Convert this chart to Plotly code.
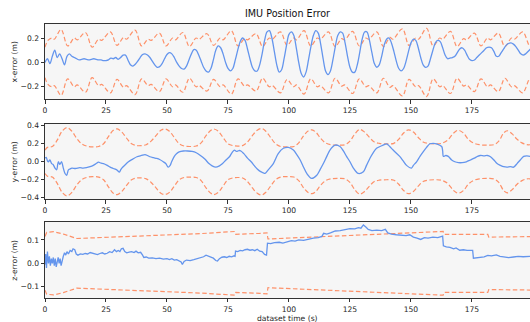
import plotly.graph_objects as go

# ---------------- data ----------------
# panel 1: x error (1 s samples)
x_t = list(range(200))
x_err = [0.00, 0.03, -0.01, 0.05, 0.10, 0.04, 0.07, 0.03, -0.02, 0.05,
         0.07, 0.05, 0.04, 0.03, 0.02, 0.025, 0.03, 0.025, 0.02, 0.025,
         0.03, 0.025, 0.02, 0.02, 0.015, 0.015, 0.02, 0.035, 0.03, 0.04,
         0.025, 0.04, 0.06, 0.06, 0.02, -0.02, -0.03, -0.015, 0.01, 0.04,
         0.065, 0.07, 0.06, 0.04, 0.01, -0.02, -0.04, -0.035, -0.01, 0.03,
         0.065, 0.08, 0.07, 0.04, 0.0, -0.03, -0.05, -0.055, -0.03, 0.02,
         0.07, 0.105, 0.10, 0.06, 0.01, -0.04, -0.07, -0.08, -0.05, 0.02,
         0.10, 0.135, 0.12, 0.07, 0.0, -0.05, -0.07, -0.05, 0.02, 0.10,
         0.17, 0.20, 0.18, 0.11, 0.03, -0.04, -0.07, -0.07, -0.02, 0.07,
         0.18, 0.25, 0.26, 0.20, 0.09, -0.02, -0.08, -0.06, 0.03, 0.14,
         0.23, 0.25, 0.22, 0.12, 0.0, -0.09, -0.12, -0.08, 0.02, 0.13,
         0.22, 0.26, 0.24, 0.15, 0.03, -0.07, -0.10, -0.07, 0.02, 0.13,
         0.22, 0.25, 0.24, 0.16, 0.05, -0.04, -0.08, -0.08, -0.02, 0.08,
         0.19, 0.25, 0.25, 0.18, 0.08, -0.01, -0.04, -0.02, 0.05, 0.14,
         0.19, 0.20, 0.16, 0.09, 0.01, -0.05, -0.07, -0.05, 0.01, 0.09,
         0.16, 0.19, 0.18, 0.12, 0.04, -0.02, -0.04, -0.03, 0.03, 0.10,
         0.16, 0.18, 0.17, 0.12, 0.06, 0.03, 0.035, 0.04, 0.05, 0.08,
         0.11, 0.12, 0.10, 0.06, 0.025, 0.015, 0.02, 0.04, 0.06, 0.08,
         0.10, 0.12, 0.125, 0.12, 0.09, 0.05, 0.05, 0.08, 0.11, 0.14,
         0.155, 0.16, 0.15, 0.13, 0.10, 0.07, 0.06, 0.07, 0.09, 0.11]

x_sig_t = [0, 1.2, 2.8, 3.8, 6.6,
           9.3, 12.0, 13.2, 16.6, 19.3, 22.0, 23.2, 26.8, 29.5, 32.2, 33.4, 36.9,
           39.6, 42.3, 43.5, 46.9, 49.6, 52.3, 53.5, 56.5, 59.2, 61.9, 63.1, 66.4,
           69.1, 71.8, 73.0, 76.4, 79.1, 81.8, 83.0, 86.5, 89.2, 91.9, 93.1, 96.5,
           99.2, 101.9, 103.1, 106.2, 108.9, 111.6, 112.8, 116.2, 118.9, 121.6, 122.8, 126.1,
           128.8, 131.5, 132.7, 136.0, 138.7, 141.4, 142.6, 146.5, 149.2, 151.9, 153.1, 156.4,
           159.1, 161.8, 163.0, 166.2, 168.9, 171.6, 172.8, 176.0, 178.7, 181.4, 182.6, 185.8,
           188.5, 191.2, 192.4, 195.8, 198.5, 199]
x_sig_v = [0.125, 0.18, 0.20, 0.19, 0.27,
           0.135, 0.20, 0.185, 0.245, 0.125, 0.19, 0.18, 0.25, 0.14, 0.205, 0.19, 0.265,
           0.135, 0.19, 0.18, 0.24, 0.135, 0.20, 0.185, 0.245, 0.13, 0.20, 0.19, 0.235,
           0.14, 0.20, 0.185, 0.26, 0.135, 0.195, 0.185, 0.235, 0.13, 0.20, 0.19, 0.25,
           0.14, 0.20, 0.185, 0.26, 0.135, 0.20, 0.19, 0.25, 0.13, 0.195, 0.185, 0.255,
           0.135, 0.20, 0.19, 0.25, 0.13, 0.205, 0.19, 0.275, 0.14, 0.20, 0.19, 0.28,
           0.135, 0.20, 0.19, 0.255, 0.13, 0.195, 0.185, 0.24, 0.135, 0.20, 0.185, 0.24,
           0.13, 0.20, 0.19, 0.25, 0.14, 0.15]

# panel 2: y error
y_t = [0, 0.5, 1, 1.4, 2, 2.7, 3.3, 4.1, 4.8, 5.2, 5.5, 6.1, 6.8, 7.5, 8.2, 8.9, 9.6,
       10.3, 11, 12.5, 14.3, 15.5, 17, 18.5, 19.8, 21, 21.9, 23, 24, 25.5, 26.7, 28,
       29.4, 30.5, 31, 31.5, 33, 34.2, 36, 37.7, 39.5, 41, 42, 43, 44.5, 45.8, 47,
       48.5, 49.5, 50.5, 51.3, 51.9, 53, 53.9, 55, 56.7, 58.5, 60.3, 62, 63.7, 65.5,
       67.2, 68.5, 70, 71.5, 72.8, 74.2, 75.6, 76.6, 77.6, 78.5, 79.5, 80.3, 81.5, 83,
       84.5, 85.7, 87, 88.4, 89.3, 90.2, 91.5, 93.6, 95.6, 97.7, 99.8, 101.8, 103.2,
       104.6, 106, 107.3, 109.3, 111.4, 112.7, 114.1, 115.5, 116.8, 118.9, 120.9, 122.3,
       123.6, 125, 126.4, 128.4, 130.5, 131.8, 133.2, 134.5, 135.9, 138.6, 140, 141.3,
       142.7, 145.4, 146.8, 148.2, 150.2, 151, 152.3, 153.7, 155, 156.4, 157.8, 159.2,
       160.5, 162.6, 163, 163.3, 164.3, 165.3, 166.7, 168, 169.5, 171, 172.7, 174.4,
       176, 177.3, 178.5, 180, 181.3, 182.6, 184, 185.3, 186.7, 188, 189.4, 190.7,
       192.1, 193.5, 194.8, 196.2, 197.5, 198.9]
y_err = [0.04, 0.05, 0.01, 0.0, 0.02, -0.02, -0.03, -0.07, -0.09, -0.03, 0.0, -0.03, 0.0,
         -0.07, -0.13, -0.15, -0.09, -0.08, -0.07, -0.075, -0.065, -0.07, -0.066, -0.055,
         -0.04, -0.02, -0.005, -0.015, -0.02, -0.04, -0.06, -0.075, -0.09, -0.115, -0.09,
         -0.07, -0.03, 0.0, 0.03, 0.056, 0.07, 0.08, 0.07, 0.056, 0.045, 0.037, 0.025,
         0.0, -0.02, -0.06, -0.04, 0.0, 0.06, 0.09, 0.11, 0.12, 0.12, 0.115, 0.10, 0.07,
         0.03, -0.02, -0.045, -0.06, -0.045, -0.02, 0.02, 0.056, 0.10, 0.13, 0.115, 0.125,
         0.12, 0.09, 0.04, 0.0, -0.04, -0.08, -0.11, -0.12, -0.13, -0.09, -0.02, 0.09,
         0.15, 0.16, 0.13, 0.08, 0.02, -0.06, -0.13, -0.185, -0.15, -0.09, -0.02, 0.06,
         0.13, 0.185, 0.17, 0.12, 0.06, 0.0, -0.07, -0.13, -0.11, -0.04, 0.04, 0.10,
         0.15, 0.185, 0.20, 0.17, 0.13, 0.06, 0.01, -0.04, -0.07, -0.04, 0.0, 0.06, 0.11,
         0.16, 0.20, 0.205, 0.20, 0.17, 0.12, 0.06, 0.07, 0.06, 0.02, 0.0, -0.01, -0.01,
         0.0, 0.02, 0.04, 0.06, 0.07, 0.065, 0.07, 0.056, 0.02, -0.02, -0.04, -0.055,
         -0.06, -0.055, -0.06, -0.02, 0.02, 0.06, 0.065, 0.06]

y_sig_t = [0, 1, 3, 5, 7, 9, 11, 13, 15, 17, 19.5, 22, 24, 26, 28, 29.6, 31.5, 33.5,
           35.5, 37.5, 39.5, 41.5, 43.5, 45.5, 47.5, 49.2, 51, 53, 55, 57, 59.5, 62,
           64, 66, 68, 69.2, 71, 73, 75, 77, 79, 81, 83, 85, 87, 88.8, 90.5, 92.5, 94.5,
           96.5, 99.5, 102, 104, 106, 108, 109.4, 111, 113, 115, 117, 120, 123, 125, 127,
           129, 131, 133, 135, 137, 140, 143, 145, 147, 149, 151, 153, 155, 157, 160,
           162.5, 165, 167.5, 169.4, 171.5, 173.5, 175.5, 178, 181, 184, 186, 188, 189.4,
           191.5, 193.5, 195.5, 197.5, 199]
y_sig_v = [0.13, 0.16, 0.17, 0.24, 0.34, 0.38, 0.34, 0.26, 0.20, 0.175, 0.165, 0.17,
           0.20, 0.28, 0.35, 0.365, 0.33, 0.26, 0.20, 0.18, 0.18, 0.19, 0.23, 0.29, 0.35,
           0.365, 0.34, 0.27, 0.20, 0.175, 0.17, 0.175, 0.21, 0.29, 0.35, 0.365, 0.34,
           0.27, 0.20, 0.18, 0.175, 0.18, 0.22, 0.29, 0.35, 0.37, 0.34, 0.27, 0.20, 0.17,
           0.165, 0.17, 0.21, 0.29, 0.345, 0.355, 0.33, 0.26, 0.21, 0.19, 0.185, 0.19,
           0.23, 0.31, 0.36, 0.33, 0.27, 0.22, 0.205, 0.20, 0.205, 0.25, 0.32, 0.355,
           0.33, 0.27, 0.22, 0.205, 0.20, 0.205, 0.24, 0.32, 0.35, 0.32, 0.25, 0.21,
           0.19, 0.185, 0.19, 0.23, 0.32, 0.345, 0.31, 0.25, 0.21, 0.19, 0.19]

# panel 3: z error
z_t = [0, 0.3, 0.6, 1, 1.4, 1.8, 2.2, 2.6, 3, 3.4, 3.8, 4.2, 4.6, 5, 5.4, 5.8, 6.2, 6.6,
       7, 7.5, 8, 8.5, 9, 9.6, 10.3, 11, 11.5, 12.2, 12.8, 13.5, 14.5, 15.5, 16.5, 17.5,
       18.5, 19.5, 20.5, 21.5, 22.5, 23.5, 24.5, 25.5, 26.5, 27.5, 28.5, 29.3, 30, 30.7,
       31.3, 32, 32.7, 33.5, 34.5, 35.5, 36.5, 37.3, 38.2, 39.2, 40, 40.5, 41.5, 42.5,
       44, 45.5, 47, 48.5, 50, 51, 52, 53, 54, 55, 55.8, 56.3, 57, 58, 59.5, 61, 62.5,
       63.7, 65, 66, 67, 68, 69, 70, 70.7, 71.5, 72.5, 73.5, 74.5, 75.5, 76.5, 77.5,
       77.9, 78.1, 79, 80, 81, 82, 83, 84, 85, 86, 87, 88, 89, 90, 90.8, 91.2, 92.5,
       94, 96, 97.5, 99, 101, 102.5, 104, 106, 108, 110, 112, 113.5, 114.2, 115.5,
       117, 119, 121, 123, 125, 127, 128.5, 129.5, 130.5, 131.5, 132.5, 134, 136,
       138, 139.5, 140.5, 142, 144, 146, 148, 149.5, 151, 152.5, 154, 155.5, 157, 159,
       161, 163, 163.3, 164.5, 166, 167.5, 168.5, 170, 171.5, 173, 174.5, 175.3, 175.6,
       177, 178.5, 180, 181.5, 183, 185, 186.5, 188, 190, 192, 194, 196, 198, 199]
z_err = [-0.005, 0.04, -0.02, 0.05, 0.0, 0.03, -0.01, 0.02, 0.0, 0.025, -0.01, 0.02,
         -0.015, 0.01, 0.025, 0.0, 0.02, -0.01, 0.015, 0.03, 0.045, 0.035, 0.05, 0.04,
         0.055, 0.05, 0.062, 0.058, 0.04, 0.035, 0.04, 0.038, 0.042, 0.04, 0.046, 0.043,
         0.04, 0.037, 0.042, 0.045, 0.04, 0.043, 0.05, 0.046, 0.058, 0.05, 0.055, 0.05,
         0.062, 0.064, 0.05, 0.045, 0.048, 0.05, 0.046, 0.052, 0.045, 0.047, 0.035,
         0.025, 0.027, 0.022, 0.023, 0.02, 0.022, 0.018, 0.02, 0.016, 0.02, 0.014,
         0.016, 0.01, 0.006, -0.005, 0.008, 0.014, 0.012, 0.016, 0.02, 0.022, 0.028,
         0.035, 0.03, 0.025, 0.022, 0.012, 0.01, 0.02, 0.026, 0.028, 0.025, 0.03,
         0.028, 0.032, 0.03, 0.052, 0.05, 0.055, 0.053, 0.058, 0.06, 0.056, 0.058,
         0.054, 0.06, 0.052, 0.05, 0.038, 0.035, 0.086, 0.084, 0.088, 0.09, 0.086,
         0.092, 0.097, 0.095, 0.10, 0.098, 0.104, 0.108, 0.11, 0.115, 0.128, 0.125,
         0.13, 0.138, 0.14, 0.143, 0.148, 0.147, 0.152, 0.15, 0.164, 0.155, 0.145,
         0.14, 0.142, 0.14, 0.145, 0.13, 0.125, 0.122, 0.12, 0.118, 0.122, 0.112,
         0.108, 0.102, 0.11, 0.108, 0.112, 0.11, 0.116, 0.075, 0.07, 0.068, 0.062,
         0.066, 0.056, 0.058, 0.055, 0.057, 0.055, 0.022, 0.024, 0.027, 0.028, 0.034,
         0.032, 0.036, 0.03, 0.028, 0.024, 0.027, 0.03, 0.028, 0.03, 0.03]

z_sig_t = [0, 0.7, 3.5, 7.5, 13, 25, 39, 50, 64, 77.8, 78.2, 88, 91.0, 91.4, 115, 143,
           163.2, 163.6, 181.5, 181.9, 199]
z_sig_v = [0.115, 0.132, 0.135, 0.125, 0.106, 0.111, 0.116, 0.12, 0.127, 0.136, 0.124,
           0.128, 0.13, 0.104, 0.115, 0.127, 0.136, 0.124, 0.124, 0.112, 0.114]

x_ticks = [0, 25, 50, 75, 100, 125, 150, 175]
panel_titles = ["x-error (m)", "y-error (m)", "z-error (m)"]
y_ticks = [[-0.2, 0.0, 0.2], [-0.4, -0.2, 0.0, 0.2, 0.4], [-0.1, 0.0, 0.1]]
y_ranges = [[-0.301, 0.315], [-0.415, 0.42], [-0.148, 0.176]]

# ---------------- styles ----------------
BLUE = "#6495ED"
ORANGE = "rgba(255,127,80,0.85)"
DASH = "4.5px,2.5px"
FONT = "DejaVu Sans"
TXT = "#262626"

fig = go.Figure()
panels = [(x_t, x_err, x_sig_t, x_sig_v, "spline"),
          (y_t, y_err, y_sig_t, y_sig_v, "spline"),
          (z_t, z_err, z_sig_t, z_sig_v, "linear")]
for i, (t, e, st, sv, shp) in enumerate(panels):
    ax = "" if i == 0 else str(i + 1)
    bshape = "spline" if i < 2 else "linear"
    fig.add_trace(go.Scatter(x=st, y=sv, mode="lines", xaxis="x" + ax, yaxis="y" + ax,
                             line=dict(color=ORANGE, width=1.2, dash=DASH,
                                       shape=bshape, smoothing=1.0),
                             showlegend=False, hoverinfo="skip"))
    fig.add_trace(go.Scatter(x=st, y=[-v for v in sv], mode="lines", xaxis="x" + ax, yaxis="y" + ax,
                             line=dict(color=ORANGE, width=1.2, dash=DASH,
                                       shape=bshape, smoothing=1.0),
                             showlegend=False, hoverinfo="skip"))
    fig.add_trace(go.Scatter(x=t, y=e, mode="lines", xaxis="x" + ax, yaxis="y" + ax,
                             line=dict(color=BLUE, width=1.3, shape=shp, smoothing=0.9),
                             showlegend=False, hoverinfo="skip"))

domains = [[0.726, 1.0], [0.361, 0.635], [0.0, 0.277]]
common_axis = dict(showline=True, mirror=True, linecolor="#333333", linewidth=0.9,
                   ticks="outside", ticklen=3.5, tickwidth=0.8, tickcolor="#333333",
                   showgrid=False, zeroline=False,
                   tickfont=dict(family=FONT, size=7.6, color=TXT))
layout = dict(width=530, height=322, margin=dict(l=45, r=0, t=24, b=24),
              paper_bgcolor="white", plot_bgcolor="#F6F6F6",
              title=dict(text="IMU Position Error", x=0.5, xref="paper", y=1 - 14 / 322,
                         yanchor="middle", xanchor="center",
                         font=dict(family=FONT, size=9.6, color="#111111")))
for i in range(3):
    ax = "" if i == 0 else str(i + 1)
    layout["xaxis" + ax] = dict(common_axis, domain=[0, 1], anchor="y" + ax,
                                range=[0, 198.8], tickvals=x_ticks,
                                ticktext=[str(v) for v in x_ticks])
    layout["yaxis" + ax] = dict(common_axis, domain=domains[i], anchor="x" + ax,
                                range=y_ranges[i], tickvals=y_ticks[i], tickformat=".1f")
fig.update_layout(**layout)

centers = [0.863, 0.498, 0.139]
for i in range(3):
    fig.add_annotation(text=panel_titles[i], xref="paper", yref="paper", x=-0.062,
                       y=centers[i], textangle=-90, showarrow=False, xanchor="center",
                       yanchor="middle", font=dict(family=FONT, size=7.6, color=TXT))
fig.add_annotation(text="dataset time (s)", xref="paper", yref="paper", x=0.5, y=-0.073,
                   showarrow=False, xanchor="center", yanchor="middle",
                   font=dict(family=FONT, size=7.6, color=TXT))

fig.write_html("out.html")
